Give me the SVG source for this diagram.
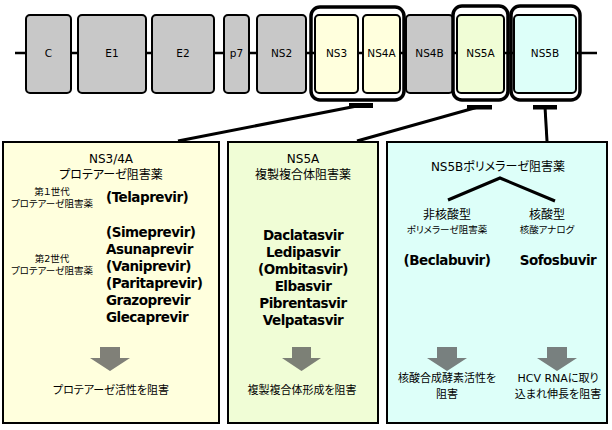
<svg xmlns="http://www.w3.org/2000/svg" width="612" height="430" viewBox="0 0 612 430">
<defs>
<style>
.gene{stroke:#000;stroke-width:2}
.gray{fill:#c8c8c8}
.y{fill:#ffffdd}
.g{fill:#f0fdd6}
.c{fill:#ddfff9}
.outer{fill:none;stroke:#000;stroke-width:3.5}
.lbl{font-family:"DejaVu Sans","Noto Sans CJK JP",sans-serif;font-size:10.5px;fill:#000;text-anchor:middle}
.panel{stroke:#000;stroke-width:2}
.t{font-family:"DejaVu Sans","Noto Sans CJK JP",sans-serif;fill:#000;text-anchor:middle;font-feature-settings:"palt"}
.t12{font-size:12px}
.t11{font-size:11px}
.t10{font-size:9.5px}
.drug{font-family:"DejaVu Sans",sans-serif;font-weight:700;font-size:13.5px;letter-spacing:-0.5px;fill:#000}
.arr{fill:#555;fill-opacity:0.75}
.conn{stroke:#000;stroke-width:3;fill:none}
</style>
</defs>
<rect width="612" height="430" fill="#fff"/>
<g id="backbone"><line x1="15" y1="53" x2="597" y2="53" stroke="#000" stroke-width="2.5"/></g>
<g id="gene-C"><rect class="gene gray" x="26" y="15" width="45" height="78" rx="4"/><text class="lbl" x="48.5" y="57">C</text></g>
<g id="gene-E1"><rect class="gene gray" x="78" y="15" width="68" height="78" rx="4"/><text class="lbl" x="112" y="57">E1</text></g>
<g id="gene-E2"><rect class="gene gray" x="152" y="15" width="62" height="78" rx="4"/><text class="lbl" x="183" y="57">E2</text></g>
<g id="gene-p7"><rect class="gene gray" x="224" y="15" width="25" height="78" rx="4"/><text class="lbl" x="236.5" y="57">p7</text></g>
<g id="gene-NS2"><rect class="gene gray" x="257" y="15" width="49" height="78" rx="4"/><text class="lbl" x="281.5" y="57">NS2</text></g>
<g id="gene-NS3"><rect class="gene y" x="315" y="15" width="43" height="78" rx="4"/><text class="lbl" x="336.5" y="57">NS3</text></g>
<g id="gene-NS4A"><rect class="gene y" x="363" y="15" width="37" height="78" rx="4"/><text class="lbl" x="381.5" y="57">NS4A</text></g>
<g id="gene-NS4B"><rect class="gene gray" x="406" y="15" width="47" height="78" rx="4"/><text class="lbl" x="429.5" y="57">NS4B</text></g>
<g id="gene-NS5A"><rect class="gene g" x="457" y="15" width="47" height="78" rx="4"/><text class="lbl" x="480.5" y="57">NS5A</text></g>
<g id="gene-NS5B"><rect class="gene c" x="514" y="15" width="62" height="78" rx="4"/><text class="lbl" x="545" y="57">NS5B</text></g>
<g id="group-NS34A"><rect class="outer" x="311" y="7" width="93" height="93" rx="9"/></g>
<g id="group-NS5A"><rect class="outer" x="453" y="6" width="55" height="94" rx="9"/></g>
<g id="group-NS5B"><rect class="outer" x="511" y="6" width="69" height="94" rx="9"/></g>

<g id="connectors">
<rect x="349" y="103" width="24" height="5" fill="#000"/>
<line class="conn" x1="362" y1="105" x2="178" y2="141"/>
<rect x="467" y="105" width="25" height="4.5" fill="#000"/>
<line class="conn" x1="478" y1="107" x2="357" y2="141"/>
<rect x="533" y="105" width="24" height="4.5" fill="#000"/>
<line class="conn" x1="545" y1="107" x2="547" y2="141"/>
</g>

<g id="panel-NS34A">
<rect class="panel y" x="3" y="142" width="216" height="281"/>
<text class="t t12" x="111" y="163">NS3/4A</text>
<text class="t t12" x="111" y="179">プロテアーゼ阻害薬</text>
<text class="t t10" x="52" y="195">第１世代</text>
<text class="t t10" x="52" y="207">プロテアーゼ阻害薬</text>
<text class="drug" x="106" y="202">(Telaprevir)</text>
<text class="t t10" x="52" y="262">第2世代</text>
<text class="t t10" x="52" y="274">プロテアーゼ阻害薬</text>
<text class="drug" x="106" y="237">(Simeprevir)</text>
<text class="drug" x="106" y="254">Asunaprevir</text>
<text class="drug" x="106" y="271">(Vaniprevir)</text>
<text class="drug" x="106" y="288">(Paritaprevir)</text>
<text class="drug" x="106" y="305">Grazoprevir</text>
<text class="drug" x="106" y="322">Glecaprevir</text>
<path class="arr" d="M100,347H120V358H130L110,371L90,358H100Z"/>
<text class="t t11" x="111" y="394">プロテアーゼ活性を阻害</text>
</g>

<g id="panel-NS5A">
<rect class="panel g" x="228" y="142" width="150" height="281"/>
<text class="t t12" x="303" y="163">NS5A</text>
<text class="t t12" x="303" y="179">複製複合体阻害薬</text>
<g class="drug" text-anchor="middle">
<text x="303" y="240">Daclatasvir</text>
<text x="303" y="257">Ledipasvir</text>
<text x="303" y="274">(Ombitasvir)</text>
<text x="303" y="291">Elbasvir</text>
<text x="303" y="308">Pibrentasvir</text>
<text x="303" y="325">Velpatasvir</text>
</g>
<path class="arr" d="M292,347H311V358H321L301.5,371L282,358H292Z"/>
<text class="t t11" x="302" y="394">複製複合体形成を阻害</text>
</g>

<g id="panel-NS5B">
<rect class="panel c" x="387" y="142" width="220" height="281"/>
<text class="t t12" x="498" y="171">NS5Bポリメラーゼ阻害薬</text>
<polyline points="448,200 500,178 555,201" fill="none" stroke="#000" stroke-width="3"/>
<text class="t t12" x="447" y="219">非核酸型</text>
<text class="t t10" x="447" y="233">ポリメラーゼ阻害薬</text>
<text class="t t12" x="547" y="219">核酸型</text>
<text class="t t10" x="547" y="233">核酸アナログ</text>
<text class="drug" x="447" y="265" text-anchor="middle">(Beclabuvir)</text>
<text class="drug" x="558" y="265" text-anchor="middle">Sofosbuvir</text>
<path class="arr" d="M437,347H457V358H467L447,371L427,358H437Z"/>
<path class="arr" d="M547,347H567V358H577L557,371L537,358H547Z"/>
<text class="t t11" x="447" y="382">核酸合成酵素活性を</text>
<text class="t t11" x="447" y="398">阻害</text>
<text class="t t11" x="558" y="382">HCV RNAに取り</text>
<text class="t t11" x="558" y="398">込まれ伸長を阻害</text>
</g>
</svg>
